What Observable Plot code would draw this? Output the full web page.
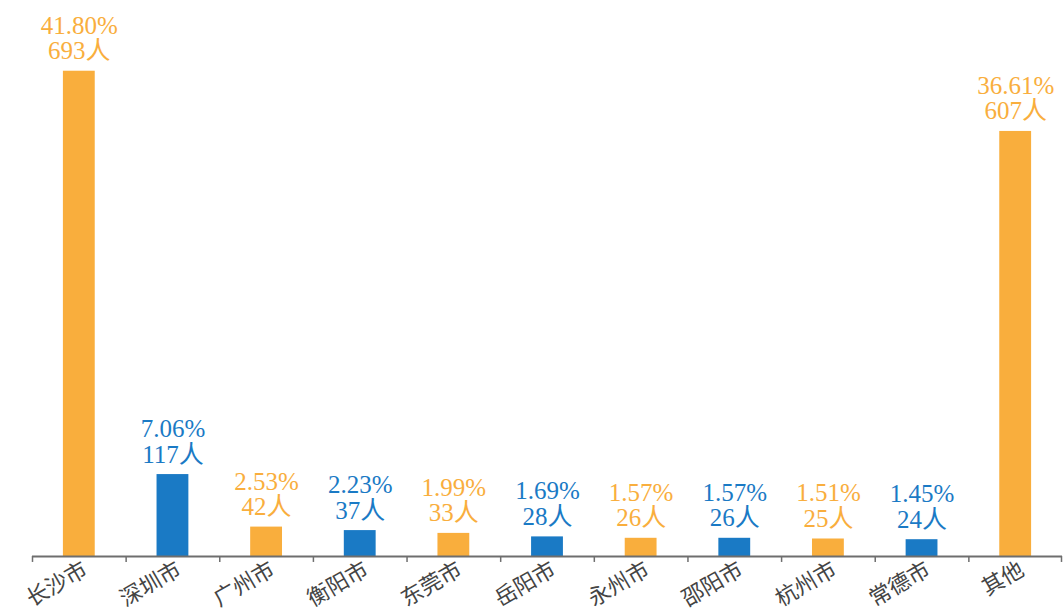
<!DOCTYPE html>
<html>
<head>
<meta charset="utf-8">
<script src="https://cdn.jsdelivr.net/npm/d3@7"></script>
<script src="https://cdn.jsdelivr.net/npm/@observablehq/plot@0.6"></script>
<style>
  html, body { margin: 0; padding: 0; background: #fff; }
  #chart svg { display: block; }
</style>
</head>
<body>
<div id="chart"></div>
<script>
const categories = ["长沙市", "深圳市", "广州市", "衡阳市", "东莞市", "岳阳市", "永州市", "邵阳市", "杭州市", "常德市", "其他"];
const counts = [693, 117, 42, 37, 33, 28, 26, 26, 25, 24, 607];
const percents = ["41.80", "7.06", "2.53", "2.23", "1.99", "1.69", "1.57", "1.57", "1.51", "1.45", "36.61"];
const seriesColors = ["#F9AE3D", "#1A7AC5"];

const data = categories.map((c, i) => ({
  city: c,
  count: counts[i],
  pct: percents[i],
  color: seriesColors[i % 2]
}));

const W = 1063, H = 612;
const mL = 32, mR = 1, mB = 56, mT = 0;
const step = (W - mL - mR) / categories.length;
const font = "'Liberation Serif', 'Times New Roman', 'Noto Sans CJK SC', serif";

const plot = Plot.plot({
  width: W,
  height: H,
  marginLeft: mL,
  marginRight: mR,
  marginTop: mT,
  marginBottom: mB,
  style: { fontFamily: font, background: "#fff" },
  x: { domain: categories, paddingInner: 0.66, paddingOuter: 0.33, round: false, axis: null },
  y: { domain: [0, 794], axis: null },
  marks: [
    Plot.barY(data, { x: "city", y: "count", fill: "color" }),
    Plot.ruleY([0], { stroke: "#6e6e6e", strokeWidth: 2 }),
    Plot.ruleX(data, { x: "city", y1: 0, y2: -8.5, dx: -step / 2, stroke: "#6e6e6e", strokeWidth: 1.5 }),
    Plot.ruleX(data.slice(-1), { x: "city", y1: 0, y2: -8.5, dx: step / 2 - 1, stroke: "#6e6e6e", strokeWidth: 1.5 }),
    Plot.text(data, {
      x: "city", y: "count",
      text: d => `${d.pct}%\n${d.count}人`,
      fill: "color",
      fontSize: 25,
      lineHeight: 1.02,
      lineAnchor: "bottom",
      dy: -12
    }),
    Plot.text(data, {
      x: "city", y: 0,
      text: "city",
      rotate: -30,
      textAnchor: "end",
      lineAnchor: "top",
      fontSize: 22,
      fill: "#444",
      dy: 4,
      dx: 2
    })
  ]
});
document.getElementById("chart").appendChild(plot);
</script>
</body>
</html>
